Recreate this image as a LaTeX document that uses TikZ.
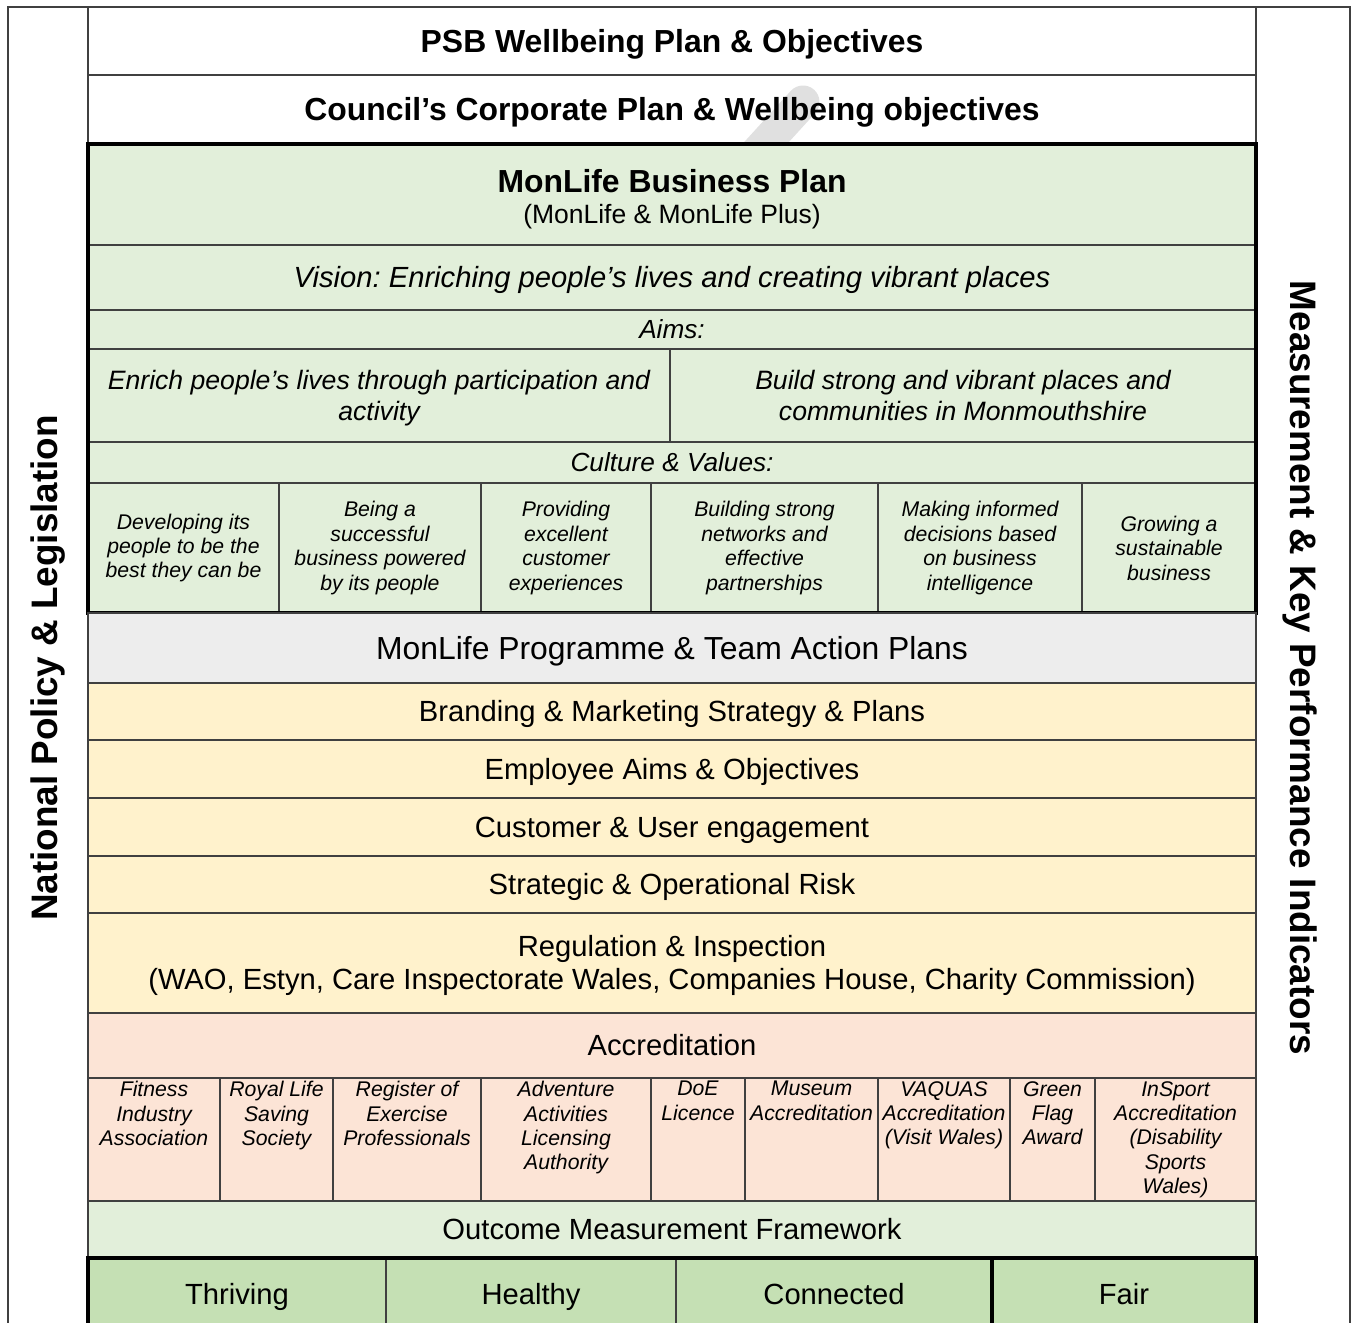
\documentclass[tikz,border=0pt]{standalone}
\usepackage{fontspec}
\setmainfont{Liberation Sans}
\usetikzlibrary{positioning}
\definecolor{lgreen}{HTML}{E2EFDA}
\definecolor{dgreen}{HTML}{C5E0B4}
\definecolor{lyellow}{HTML}{FFF2CC}
\definecolor{lpeach}{HTML}{FCE4D6}
\definecolor{lgrey}{HTML}{EDEDED}
\definecolor{edge}{HTML}{404040}

\begin{document}
\frenchspacing
\begin{tikzpicture}[x=1bp,y=-1bp,
    cell/.style={draw=edge,line width=1.3bp,anchor=north west,inner sep=0pt,outer sep=0pt,align=center},
    heavy/.style={line width=4bp,black},
    frame/.style={draw=edge,line width=1.5bp},
    side/.style={font=\fontsize{37}{42}\selectfont\bfseries},
    big/.style={font=\fontsize{32}{37}\selectfont\bfseries,text height=29bp,text depth=6.8bp},
    prog/.style={font=\fontsize{32}{37}\selectfont,text height=29bp,text depth=6.8bp},
    row/.style={font=\fontsize{29.3}{33.7}\selectfont,text height=26.5bp,text depth=6.2bp},
    rowit/.style={font=\fontsize{29.3}{33.7}\selectfont\itshape,text height=26.5bp,text depth=6.2bp},
    label/.style={font=\fontsize{26.3}{30}\selectfont\itshape,text height=23.8bp,text depth=5.6bp},
    aim/.style={font=\fontsize{26.7}{31}\selectfont\itshape},
    small/.style={font=\fontsize{21.3}{24.5}\selectfont\itshape},
    atext/.style={small,align=center,inner sep=3bp}]
\clip (0,0) rectangle (1355,1323);
\fill[white] (0,0) rectangle (1355,1323);
\draw[frame] (8,1330) -- (8,7) -- (1350,7) -- (1350,1330);
\node[side,rotate=90] (policy) at (48,668) {National Policy \& Legislation};
\node[side,rotate=-90] (kpi) at (1300,668) {Measurement \& Key Performance Indicators};
\draw[line width=33bp,gray!24,line cap=round] (803,102) -- (752,158);

% plans above
\node[cell,big,minimum width=1168bp,minimum height=68bp] (psb) at (88,7) {PSB Wellbeing Plan \& Objectives};
\node[cell,big,minimum width=1168bp,minimum height=69bp] (council) at (psb.south west) {Council’s Corporate Plan \& Wellbeing objectives};

% business plan
\node[cell,fill=lgreen,minimum width=1168bp,minimum height=101bp,font=\fontsize{32}{31}\selectfont] (bp) at (council.south west)
    {{\bfseries\rule{0pt}{33bp}MonLife Business Plan}\\{\fontsize{26.6}{31}\selectfont(MonLife \& MonLife Plus)}};
\node[cell,rowit,fill=lgreen,minimum width=1168bp,minimum height=65bp] (vision) at (bp.south west)
    {Vision: Enriching people’s lives and creating vibrant places};
\node[cell,label,fill=lgreen,minimum width=1168bp,minimum height=39bp] (aims) at (vision.south west) {Aims:};
\node[cell,aim,fill=lgreen,minimum width=582bp,minimum height=93bp] (aim_1) at (aims.south west)
    {\rule{0pt}{24.2bp}Enrich people’s lives through participation and\\activity\rule[-5.7bp]{0pt}{0pt}};
\node[cell,aim,fill=lgreen,minimum width=586bp,minimum height=93bp] (aim_2) at (aim_1.north east)
    {\rule{0pt}{24.2bp}Build strong and vibrant places and\\communities in Monmouthshire\rule[-5.7bp]{0pt}{0pt}};
\node[cell,label,fill=lgreen,minimum width=1168bp,minimum height=41bp] (cv) at (aim_1.south west) {Culture \& Values:};
\node[cell,small,fill=lgreen,minimum width=191bp,minimum height=130bp] (val_1) at (cv.south west)
    {Developing its\\people to be the\\best they can be};
\node[cell,small,fill=lgreen,minimum width=202bp,minimum height=130bp] (val_2) at (val_1.north east)
    {Being a\\successful\\business powered\\by its people};
\node[cell,small,fill=lgreen,minimum width=170bp,minimum height=130bp] (val_3) at (val_2.north east)
    {Providing\\excellent\\customer\\experiences};
\node[cell,small,fill=lgreen,minimum width=227bp,minimum height=130bp] (val_4) at (val_3.north east)
    {Building strong\\networks and\\effective\\partnerships};
\node[cell,small,fill=lgreen,minimum width=204bp,minimum height=130bp] (val_5) at (val_4.north east)
    {Making informed\\decisions based\\on business\\intelligence};
\node[cell,small,fill=lgreen,minimum width=174bp,minimum height=130bp] (val_6) at (val_5.north east)
    {Growing a\\sustainable\\business};
\draw[heavy] (bp.north west) rectangle (val_6.south east);

% plans below
\node[cell,prog,fill=lgrey,minimum width=1168bp,minimum height=70bp] (team) at (val_1.south west) {MonLife Programme \& Team Action Plans};
\node[cell,row,fill=lyellow,minimum width=1168bp,minimum height=57bp] (brand) at (team.south west) {Branding \& Marketing Strategy \& Plans};
\node[cell,row,fill=lyellow,minimum width=1168bp,minimum height=58bp] (staff) at (brand.south west) {Employee Aims \& Objectives};
\node[cell,row,fill=lyellow,minimum width=1168bp,minimum height=58bp] (users) at (staff.south west) {Customer \& User engagement};
\node[cell,row,fill=lyellow,minimum width=1168bp,minimum height=57bp] (risk) at (users.south west) {Strategic \& Operational Risk};
\node[cell,fill=lyellow,minimum width=1168bp,minimum height=100bp,font=\fontsize{29.3}{33.7}\selectfont] (reg) at (risk.south west)
    {\rule{0pt}{26.5bp}Regulation \& Inspection\\(WAO, Estyn, Care Inspectorate Wales, Companies House, Charity Commission)\rule[-6.2bp]{0pt}{0pt}};

% accreditation
\node[cell,row,fill=lpeach,minimum width=1168bp,minimum height=65bp] (accr) at (reg.south west) {Accreditation};
\node[cell,fill=lpeach,minimum width=132bp,minimum height=123bp] (acc_1) at (accr.south west) {};
\node[cell,fill=lpeach,minimum width=113bp,minimum height=123bp] (acc_2) at (acc_1.north east) {};
\node[cell,fill=lpeach,minimum width=148bp,minimum height=123bp] (acc_3) at (acc_2.north east) {};
\node[cell,fill=lpeach,minimum width=170bp,minimum height=123bp] (acc_4) at (acc_3.north east) {};
\node[cell,fill=lpeach,minimum width=94bp,minimum height=123bp] (acc_5) at (acc_4.north east) {};
\node[cell,fill=lpeach,minimum width=133bp,minimum height=123bp] (acc_6) at (acc_5.north east) {};
\node[cell,fill=lpeach,minimum width=132bp,minimum height=123bp] (acc_7) at (acc_6.north east) {};
\node[cell,fill=lpeach,minimum width=85bp,minimum height=123bp] (acc_8) at (acc_7.north east) {};
\node[cell,fill=lpeach,minimum width=161bp,minimum height=123bp] (acc_9) at (acc_8.north east) {};
\node[atext,below=0pt of acc_1.north] (fia) {Fitness\\Industry\\Association};
\node[atext,below=0pt of acc_2.north] (rlss) {Royal Life\\Saving\\Society};
\node[atext,below=0pt of acc_3.north] (rep) {Register of\\Exercise\\Professionals};
\node[atext,below=0pt of acc_4.north] (aala) {Adventure\\Activities\\Licensing\\Authority};
\node[atext,below=0pt of acc_5.north] (doe) {DoE\\Licence};
\node[atext,below=0pt of acc_6.north] (museum) {Museum\\Accreditation};
\node[atext,below=0pt of acc_7.north] (vaquas) {VAQUAS\\Accreditation\\(Visit Wales)};
\node[atext,below=0pt of acc_8.north] (flag) {Green\\Flag\\Award};
\node[atext,below=0pt of acc_9.north] (insport) {InSport\\Accreditation\\(Disability\\Sports\\Wales)};

% outcomes
\node[cell,row,fill=lgreen,minimum width=1168bp,minimum height=57bp] (omf) at (acc_1.south west) {Outcome Measurement Framework};
\node[cell,row,fill=dgreen,minimum width=298bp,minimum height=72bp] (thr) at (omf.south west) {Thriving};
\node[cell,row,fill=dgreen,minimum width=290bp,minimum height=72bp] (hea) at (thr.north east) {Healthy};
\node[cell,row,fill=dgreen,minimum width=316bp,minimum height=72bp] (con) at (hea.north east) {Connected};
\node[cell,row,fill=dgreen,minimum width=264bp,minimum height=72bp] (fair) at (con.north east) {Fair};
\draw[heavy] (thr.south west) -- (thr.north west) -- (fair.north east) -- (fair.south east);
\draw[heavy] (fair.north west) -- (fair.south west);
\end{tikzpicture}
\end{document}
